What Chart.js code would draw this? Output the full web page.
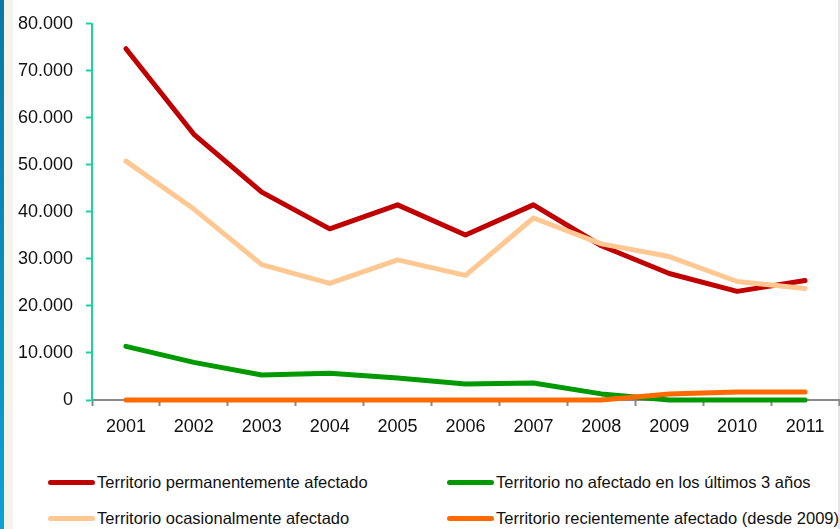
<!DOCTYPE html>
<html>
<head>
<meta charset="utf-8">
<script src="https://cdn.jsdelivr.net/npm/chart.js@4"></script>
<style>
  body { margin: 0; width: 840px; height: 529px; background: #fff; position: relative; overflow: hidden; font-family: "Liberation Sans", Arial, sans-serif; }
  .edge { position: absolute; left: 0; top: 0; width: 4px; height: 529px; background: linear-gradient(#0878a6, #0aa2d4); }
  .strip { position: absolute; left: 4px; top: 0; width: 9px; height: 529px; background: #f4f3ec; }
  .rightline { position: absolute; left: 838px; top: 0; width: 2px; height: 529px; background: #e6e6e6; }
  #wrap { position: absolute; left: 0; top: 0; width: 840px; height: 450px; }
  .legend { position: absolute; font-size: 16.5px; color: #111; white-space: nowrap; }
  .legend .item { position: absolute; display: flex; align-items: center; }
  .legend .swatch { width: 47px; height: 5px; border-radius: 3px; margin-right: 2px; }
</style>
</head>
<body>
<div class="edge"></div>
<div class="strip"></div>
<div class="rightline"></div>
<div id="wrap"><canvas id="lineChart"></canvas></div>
<div class="legend" id="legend"></div>
<script>
// años
const years = ['2001', '2002', '2003', '2004', '2005', '2006', '2007', '2008', '2009', '2010', '2011'];

const permanente = [74700, 56500, 44200, 36400, 41500, 35100, 41500, 32800, 26900, 23100, 25400];
const ocasional = [50800, 40600, 28800, 24800, 29800, 26500, 38700, 33200, 30500, 25200, 23700];
const noAfectado = [11400, 8000, 5300, 5700, 4700, 3400, 3600, 1300, 0, 0, 0];
const reciente = [0, 0, 0, 0, 0, 0, 0, 0, 1300, 1700, 1700];

const yTicks = [0, 10000, 20000, 30000, 40000, 50000, 60000, 70000, 80000];

const series = [
  { label: 'Territorio permanentemente afectado', data: permanente, color: '#c00000', order: 3 },
  { label: 'Territorio ocasionalmente afectado', data: ocasional, color: '#ffc892', order: 2 },
  { label: 'Territorio no afectado en los últimos 3 años', data: noAfectado, color: '#009a00', order: 1 },
  { label: 'Territorio recientemente afectado (desde 2009)', data: reciente, color: '#ff6a00', order: 0 }
];

const fmt = function (v) {
  return String(v).replace(/\B(?=(\d{3})+(?!\d))/g, '.');
};

const ctx = document.getElementById('lineChart');

new Chart(ctx, {
  type: 'line',
  data: {
    labels: years,
    datasets: series.map(s => ({
      label: s.label,
      data: s.data,
      borderColor: s.color,
      backgroundColor: s.color,
      borderWidth: 5,
      pointRadius: 0,
      tension: 0,
      borderCapStyle: 'round',
      borderJoinStyle: 'round',
      clip: 10,
      order: s.order
    }))
  },
  options: {
    responsive: true,
    maintainAspectRatio: false,
    animation: false,
    layout: { padding: { top: 22, right: 1, left: 0, bottom: 0 } },
    plugins: {
      legend: { display: false },
      tooltip: { enabled: false }
    },
    scales: {
      x: {
        offset: true,
        afterFit: function (scale) { scale.height = 50; },
        grid: { display: true, drawOnChartArea: false, offset: true, tickLength: 6, color: '#888', tickWidth: 2 },
        border: { color: '#888', width: 2 },
        ticks: { color: '#111', font: { family: 'Liberation Sans', size: 18 }, padding: 10, maxRotation: 0 }
      },
      y: {
        min: 0,
        max: 80000,
        afterFit: function (scale) { scale.width = 92; },
        afterBuildTicks: function (scale) { scale.ticks = yTicks.map(v => ({ value: v })); },
        grid: { display: true, drawOnChartArea: false, tickLength: 6, color: '#1fd1a0', tickWidth: 2 },
        border: { color: '#1fd1a0', width: 2 },
        ticks: { color: '#111', font: { family: 'Liberation Sans', size: 18 }, padding: 13, callback: v => fmt(v) }
      }
    }
  }
});

// leyenda
const legendPos = [[48, 483], [48, 519], [447, 483], [447, 519]];
const legend = document.getElementById('legend');
series.forEach(function (s, i) {
  const item = document.createElement('div');
  item.className = 'item';
  item.style.left = legendPos[i][0] + 'px';
  item.style.top = (legendPos[i][1] - 10) + 'px';
  item.innerHTML = '<span class="swatch" style="background:' + s.color + '"></span><span>' + s.label + '</span>';
  legend.appendChild(item);
});
</script>
</body>
</html>
